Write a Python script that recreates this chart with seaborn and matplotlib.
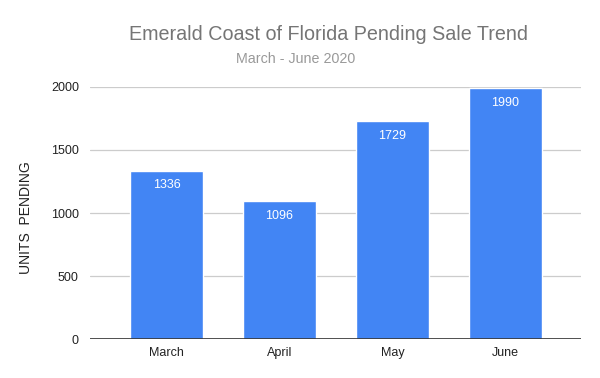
import matplotlib
matplotlib.use("Agg")
import matplotlib.pyplot as plt
import seaborn as sns

# --- Data ---
months = ["March", "April", "May", "June"]
units_pending = [1336, 1096, 1729, 1990]
y_ticks = [0, 500, 1000, 1500, 2000]

# --- Style ---
sns.set_style("white")
plt.rcParams['font.family'] = ['Liberation Sans', 'DejaVu Sans']

fig = plt.figure(figsize=(6, 3.78), dpi=100)
ax = fig.add_axes([0.15, 0.103, 0.818, 0.667])

sns.barplot(x=months, y=units_pending, color='#4285F4', width=0.646,
            saturation=1, ax=ax, zorder=3)

ax.set_xlim(-0.68, 3.67)
ax.set_ylim(0, 2000)
ax.set_yticks(y_ticks)
ax.yaxis.grid(True, color='#cccccc', linewidth=0.9, zorder=0)
ax.axhline(0, color='#333333', linewidth=1.2, zorder=4)
for side in ['top', 'right', 'left', 'bottom']:
    ax.spines[side].set_visible(False)
ax.tick_params(axis='both', length=0, labelsize=9, colors='#222222')
ax.tick_params(axis='x', pad=6)
ax.tick_params(axis='y', pad=8)

# Value labels inside the bars
for container in ax.containers:
    ax.bar_label(container, padding=-15, color='white', fontsize=9)

ax.set_xlabel('')
ax.set_ylabel('UNITS  PENDING', fontsize=10, color='#222222')
ax.yaxis.set_label_coords(-0.117, 0.48)

fig.text(0.547, 0.91, 'Emerald Coast of Florida Pending Sale Trend',
         ha='center', va='center', fontsize=14.2, color='#757575')
fig.text(0.492, 0.843, 'March - June 2020',
         ha='center', va='center', fontsize=10.3, color='#999999')

fig.savefig('out.png', dpi=100)
